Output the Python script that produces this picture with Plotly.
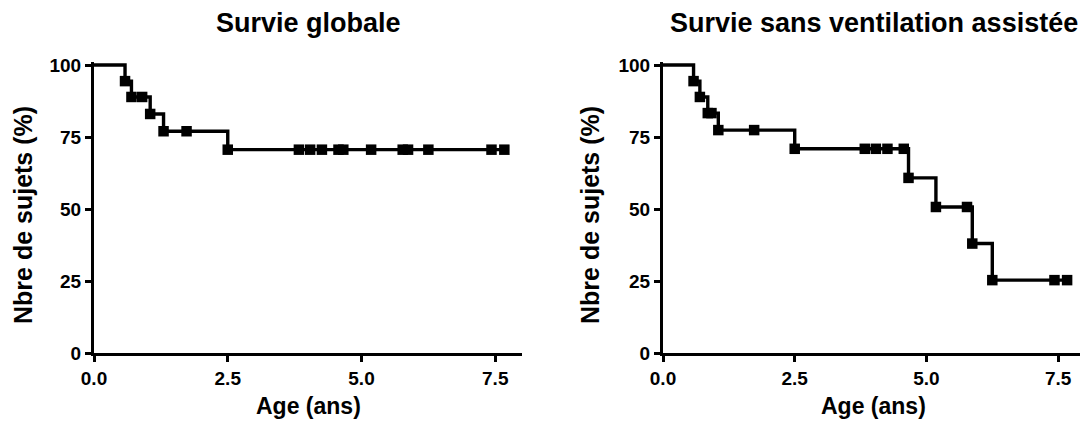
import plotly.graph_objects as go

# ---- data ----
age_globale = [0, 0.58, 0.70, 0.90, 1.05, 1.30, 1.73, 2.50, 3.83, 4.04, 4.26,
               4.57, 4.66, 5.18, 5.77, 5.87, 6.25, 7.43, 7.67]
survie_globale = [100, 94.4, 88.9, 88.9, 83.0, 77.0, 77.0, 70.6, 70.6, 70.6, 70.6,
                  70.6, 70.6, 70.6, 70.6, 70.6, 70.6, 70.6, 70.6]

age_ventil = [0, 0.58, 0.70, 0.85, 0.92, 1.05, 1.73, 2.50, 3.83, 4.04, 4.26,
              4.57, 4.66, 5.18, 5.77, 5.87, 6.25, 7.43, 7.67]
survie_ventil = [100, 94.4, 88.9, 83.3, 83.3, 77.4, 77.4, 70.9, 70.9, 70.9, 70.9,
                 70.9, 60.8, 50.7, 50.7, 38.0, 25.3, 25.3, 25.3]

x_ticks = [0.0, 2.5, 5.0, 7.5]
x_ticklabels = ["0.0", "2.5", "5.0", "7.5"]
y_ticks = [0, 25, 50, 75, 100]
y_ticklabels = ["0", "25", "50", "75", "100"]

titles = ["Survie globale", "Survie sans ventilation assistée"]
x_title = "Age (ans)"
y_title = "Nbre de sujets (%)"

# ---- figure ----
# The page body has an 8px margin, so the figure is 8px smaller and every
# target page coordinate is shifted by -8.
OFF = 8
W, H = 1088 - OFF, 421 - OFF
FONT = "Liberation Sans, Arial, sans-serif"


def fx(px):
    return (px - OFF) / W


def fy(py):
    return 1 - (py - OFF) / H


fig = go.Figure()

panels = [
    (age_globale, survie_globale, "x", "y"),
    (age_ventil, survie_ventil, "x2", "y2"),
]
for ages, surv, xa, ya in panels:
    fig.add_trace(go.Scatter(
        x=ages, y=surv, xaxis=xa, yaxis=ya, mode="lines",
        line=dict(shape="hv", color="black", width=3.4),
        showlegend=False, hoverinfo="skip"))
    fig.add_trace(go.Scatter(
        x=ages[1:], y=surv[1:], xaxis=xa, yaxis=ya, mode="markers",
        marker=dict(symbol="square", size=10.5, color="black",
                    line=dict(width=0)),
        showlegend=False, cliponaxis=False))

# pixel geometry (page pixels)
left_dom = [fx(94), fx(522)]
right_dom = [fx(663), fx(1084.5)]
y_dom = [fy(353), fy(353 - 101.2 * 2.88)]

axis_common = dict(
    showline=True, linewidth=3, linecolor="black",
    ticks="outside", ticklen=6, tickwidth=3, tickcolor="black",
    showgrid=False, zeroline=False, automargin=False,
    tickfont=dict(family=FONT, size=19, color="black", weight="bold"),
)

xcommon = dict(axis_common, range=[0, 8], tickvals=x_ticks, ticktext=x_ticklabels)
ycommon = dict(axis_common, range=[0, 101.2], tickvals=y_ticks, ticktext=y_ticklabels)

fig.update_layout(
    template="none",
    width=W, height=H,
    margin=dict(l=0, r=0, t=0, b=0, pad=0, autoexpand=False),
    paper_bgcolor="white", plot_bgcolor="white",
    xaxis=dict(xcommon, domain=left_dom, anchor="y"),
    yaxis=dict(ycommon, domain=y_dom, anchor="x"),
    xaxis2=dict(xcommon, domain=right_dom, anchor="y2"),
    yaxis2=dict(ycommon, domain=y_dom, anchor="x2"),
)

ann = []
for dom, title, ytx in [(left_dom, titles[0], 23), (right_dom, titles[1], 590)]:
    cx = (dom[0] + dom[1]) / 2
    ann.append(dict(text=title, x=cx, y=fy(23), xref="paper", yref="paper",
                    showarrow=False, xanchor="center", yanchor="middle",
                    font=dict(family=FONT, size=27, color="black", weight="bold")))
    ann.append(dict(text=x_title, x=cx, y=fy(406), xref="paper", yref="paper",
                    showarrow=False, xanchor="center", yanchor="middle",
                    font=dict(family=FONT, size=23, color="black", weight="bold")))
    ann.append(dict(text=y_title, x=fx(ytx), y=fy(215), xref="paper", yref="paper",
                    showarrow=False, xanchor="center", yanchor="middle", textangle=-90,
                    font=dict(family=FONT, size=25, color="black", weight="bold")))
fig.update_layout(annotations=ann)

fig.write_html("out.html")
